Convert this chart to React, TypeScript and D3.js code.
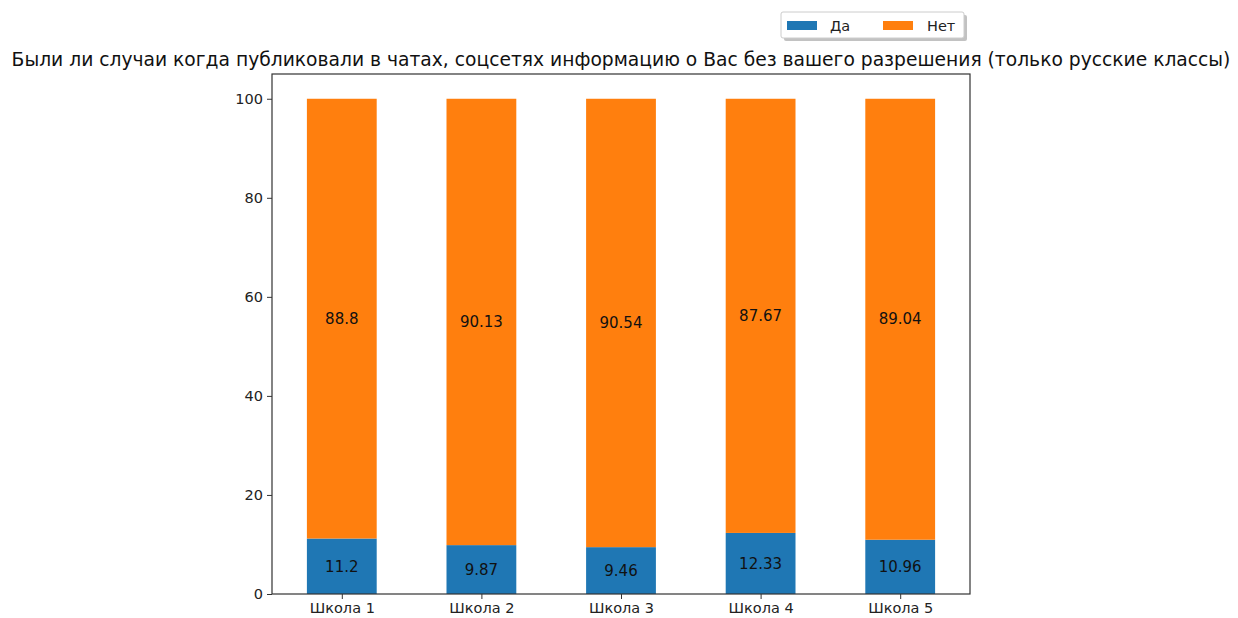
import React, { useEffect, useRef } from 'react';
import * as d3 from 'd3';

// Chart data
const schools = ['Школа 1', 'Школа 2', 'Школа 3', 'Школа 4', 'Школа 5'];
const yesValues = [11.2, 9.87, 9.46, 12.33, 10.96];
const noValues = [88.8, 90.13, 90.54, 87.67, 89.04];
const yTicks = [0, 20, 40, 60, 80, 100];
const seriesNames = ['Да', 'Нет'];
const seriesColors = ['#1f77b4', '#ff7f0e'];
const title = 'Были ли случаи когда публиковали в чатах, соцсетях информацию о Вас без вашего разрешения (только русские классы)';

const App = () => {
  const svgRef = useRef<SVGSVGElement | null>(null);

  useEffect(() => {
    if (!svgRef.current) return;
    const svg = d3.select(svgRef.current);
    svg.selectAll('*').remove();

    const font = 'DejaVu Sans, sans-serif';
    const plot = { left: 272, right: 970, top: 74, bottom: 594 };

    const x = d3.scaleLinear().domain([-0.5, schools.length - 0.5]).range([plot.left, plot.right]);
    const y = d3.scaleLinear().domain([0, 105]).range([plot.bottom, plot.top]);
    const barW = x(0.25) - x(-0.25);

    // stacked data
    const rows = schools.map((s, i) => ({ school: s, i, yes: yesValues[i], no: noValues[i] }));
    const stack = d3.stack<any>().keys(['yes', 'no'])(rows);

    const g = svg.append('g');
    stack.forEach((layer, li) => {
      g.selectAll(null)
        .data(layer)
        .enter()
        .append('rect')
        .attr('x', (d: any) => x(d.data.i) - barW / 2)
        .attr('width', barW)
        .attr('y', (d: any) => y(d[1]))
        .attr('height', (d: any) => y(d[0]) - y(d[1]))
        .attr('fill', seriesColors[li]);

      g.selectAll(null)
        .data(layer)
        .enter()
        .append('text')
        .attr('x', (d: any) => x(d.data.i))
        .attr('y', (d: any) => y((d[0] + d[1]) / 2))
        .attr('dy', '0.35em')
        .attr('text-anchor', 'middle')
        .style('font-family', font)
        .style('font-size', '15px')
        .attr('fill', '#111')
        .text((d: any) => String(+(d[1] - d[0]).toFixed(2)));
    });

    // axes
    const yAxis = d3.axisLeft(y).tickValues(yTicks).tickSize(5).tickPadding(4).tickFormat(d3.format('d'));
    const ya = svg.append('g').attr('transform', `translate(${plot.left},0)`).call(yAxis);
    ya.select('.domain').remove();
    ya.selectAll('text').style('font-family', font).style('font-size', '14.5px').attr('fill', '#222');
    ya.selectAll('line').attr('stroke', '#333');

    const xAxis = d3
      .axisBottom(x)
      .tickValues(schools.map((_, i) => i))
      .tickSize(5)
      .tickPadding(4)
      .tickFormat((d: any) => schools[d as number]);
    const xa = svg.append('g').attr('transform', `translate(0,${plot.bottom})`).call(xAxis);
    xa.select('.domain').remove();
    xa.selectAll('text').style('font-family', font).style('font-size', '14.5px').attr('fill', '#222');
    xa.selectAll('line').attr('stroke', '#333');

    // frame
    svg
      .append('rect')
      .attr('x', plot.left)
      .attr('y', plot.top)
      .attr('width', plot.right - plot.left)
      .attr('height', plot.bottom - plot.top)
      .attr('fill', 'none')
      .attr('stroke', '#333')
      .attr('stroke-width', 1.2);

    // title
    svg
      .append('text')
      .attr('x', 621)
      .attr('y', 66)
      .attr('text-anchor', 'middle')
      .style('font-family', font)
      .style('font-size', '18.7px')
      .attr('fill', '#111')
      .text(title);

    // legend with shadow
    const lg = svg.append('g').attr('transform', 'translate(781,12)');
    lg.append('rect').attr('x', 3).attr('y', 3).attr('width', 183).attr('height', 26).attr('rx', 2).attr('fill', '#999').attr('opacity', 0.6);
    lg.append('rect').attr('width', 183).attr('height', 26).attr('rx', 2).attr('fill', '#fff').attr('stroke', '#ccc');
    const items = [
      { patch: 6, text: 49 },
      { patch: 102, text: 146 },
    ];
    seriesNames.forEach((name, i) => {
      lg.append('rect').attr('x', items[i].patch).attr('y', 9).attr('width', 30).attr('height', 9).attr('fill', seriesColors[i]);
      lg.append('text')
        .attr('x', items[i].text)
        .attr('y', 13.5)
        .attr('dy', '0.35em')
        .style('font-family', font)
        .style('font-size', '14.5px')
        .attr('fill', '#222')
        .text(name);
    });
  }, []);

  return (
    <div style={{ position: 'absolute', left: 0, top: 0, width: 1238, height: 618, background: '#fff', overflow: 'hidden' }}>
      <svg ref={svgRef} width={1238} height={618} style={{ display: 'block' }} />
    </div>
  );
};

export default App;
